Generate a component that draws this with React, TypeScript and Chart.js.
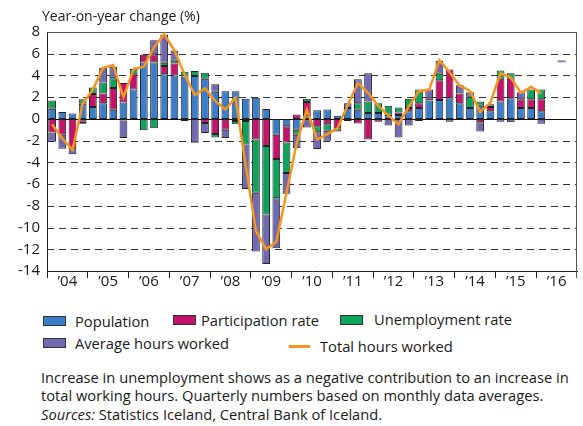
import React, { useEffect, useRef } from "react";
import { Chart, registerables } from "chart.js";
Chart.register(...registerables);

const years = ["2004", "2005", "2006", "2007", "2008", "2009", "2010", "2011", "2012", "2013", "2014", "2015", "2016"];
const yearTicks = ["’04", "’05", "’06", "’07", "’08", "’09", "’10", "’11", "’12", "’13", "’14", "’15", "’16"];
const quarterNames = ["Q1", "Q2", "Q3", "Q4"];
const categories = years.flatMap((y) => quarterNames.map((q) => `${y} ${q}`));

// Contributions (percentage points), 2004Q1 – 2016Q1
const population = [
  0.94, 0.64, 0.5, 1.4,
  1.1, 1.45, 0.85, 1.5,
  2.7, 5.2, 5.2, 4.1,
  4.0, 3.9, 3.95, 3.7,
  2.5, 2.55, 2.55, 1.85,
  1.95, 0.92, -1.45, -0.68,
  -1.0, 0.25, 0.8, 0.86,
  0.3, 1.0, 0.85, 0.55,
  0.55, 0.25, 0.35, 0.7,
  1.0, 1.7, 1.75, 1.9,
  1.45, 1.0, 1.2, 0.7,
  1.6, 1.9, 1.0, 1.0,
  0.7,
];
const participation = [
  -1.25, -1.45, -2.8, -0.25,
  1.2, 0.9, 2.0, 1.8,
  1.4, 0.7, 0.75, 0.77,
  1.1, 0, 0, -0.37,
  -1.4, -1.0, -0.2, -0.2,
  -1.9, -2.5, -2.25, -1.5,
  0.4, 1.3, -0.68, -0.5,
  -0.85, -0.2, -0.42, -1.9,
  -0.27, 0.15, 0.25, 0.3,
  0.45, 0.2, 1.8, 2.65,
  0.9, -0.1, -0.3, 0.4,
  2.1, 1.8, 0.8, 0.8,
  1.1,
];
const unemployment = [
  0.75, 0, 0, 0.4,
  0.6, 1.0, 0.9, -0.15,
  0.5, -1.05, -0.85, 0.3,
  0.25, 0.45, 0.45, 0.55,
  -0.3, 0, -0.3, -2.15,
  -4.9, -6.3, -3.6, -2.8,
  -0.45, 0.3, -0.55, -0.6,
  -0.3, 0, 0.6, 1.05,
  0.9, 0.8, 0.45, 0.85,
  1.25, 0, 0.6, 0,
  0, 1.05, 0.4, 0,
  0.75, 0.5, 0, 0.9,
  0.9,
];
const hoursWorked = [
  -0.85, -1.3, -0.45, -0.2,
  0, 1.35, 1.05, -1.6,
  0, 0, 1.3, 2.6,
  0.95, -0.2, -2.2, -0.92,
  0.7, -0.75, 0, -4.1,
  -5.4, -4.55, -4.6, -1.9,
  -1.25, -0.8, -1.55, -0.9,
  0, 0.45, 2.2, 2.6,
  0, -0.6, -1.7, -0.6,
  -0.2, 0.8, 1.2, -0.27,
  0.75, 0.4, -0.85, 0.25,
  -0.25, -0.3, 0.65, 0,
  -0.45,
];
const totalHours = [
  -0.5, -1.8, -2.85, 1.4,
  2.7, 4.7, 4.95, 2.0,
  4.6, 4.8, 6.6, 7.8,
  6.3, 4.1, 2.2, 2.8,
  1.65, 0.86, 1.95, -4.3,
  -10.3, -12.0, -11.3, -6.8,
  -2.2, 0.85, -1.9, -1.4,
  -0.85, 1.25, 3.3, 2.4,
  1.2, 0.3, -0.5, 1.15,
  2.55, 2.7, 5.4, 4.3,
  3.05, 2.6, 0.65, 1.5,
  4.2, 3.8, 2.4, 2.95,
  2.35,
];
// stray marker visible at the right of the plot
const strayMarker = [{ x: "2016 Q3", y: 5.3 }];

const yMin = -14;
const yMax = 8;
const yStep = 2;

const FONT = "'Open Sans', 'DejaVu Sans', sans-serif";
const TEXT = "#1a1a1a";
const C_POP = "#3b7dc9";
const C_PART = "#c3136b";
const C_UNEMP = "#0da35d";
const C_HOURS = "#6f68b2";
const C_TOTAL = "#f7941d";

export default function App() {
  const ref = useRef<HTMLCanvasElement>(null);

  useEffect(() => {
    if (!ref.current) return;
    const gridPlugin = {
      id: "gridFrame",
      beforeDatasetsDraw(chart: any) {
        const { ctx, chartArea: a, scales } = chart;
        const y = scales.y;
        ctx.save();
        y.ticks.forEach((t: any) => {
          const py = Math.round(y.getPixelForValue(t.value)) + 0.5;
          if (t.value === 0) {
            ctx.setLineDash([]);
            ctx.strokeStyle = "#111";
            ctx.lineWidth = 1;
          } else if (t.value > yMin && t.value < yMax) {
            ctx.setLineDash([7, 5]);
            ctx.strokeStyle = "#333";
            ctx.lineWidth = 1;
          } else return;
          ctx.beginPath();
          ctx.moveTo(a.left, py);
          ctx.lineTo(a.right, py);
          ctx.stroke();
        });
        ctx.setLineDash([]);
        ctx.strokeStyle = "#555";
        ctx.lineWidth = 1;
        ctx.beginPath();
        const top = Math.round(a.top) + 0.5;
        const right = Math.round(a.right) - 0.5;
        ctx.moveTo(a.left, top);
        ctx.lineTo(right, top);
        ctx.lineTo(right, a.bottom + 7);
        ctx.stroke();
        ctx.restore();
      },
    };

    const barCommon = {
      type: "bar" as const,
      borderColor: "#222",
      borderWidth: 1,
      borderSkipped: false,
      categoryPercentage: 1,
      barPercentage: 0.76,
      stack: "bars",
      order: 2,
    };

    const chart = new Chart(ref.current, {
      type: "bar",
      data: {
        labels: categories,
        datasets: [
          { ...barCommon, label: "Population", data: population, backgroundColor: C_POP },
          { ...barCommon, label: "Participation rate", data: participation, backgroundColor: C_PART },
          { ...barCommon, label: "Unemployment rate", data: unemployment, backgroundColor: C_UNEMP },
          { ...barCommon, label: "Average hours worked", data: hoursWorked, backgroundColor: C_HOURS },
          {
            type: "line",
            label: "Total hours worked",
            data: totalHours,
            borderColor: C_TOTAL,
            borderWidth: 2.5,
            pointRadius: 0,
            tension: 0,
            stack: "line",
            order: 0,
          } as any,
          {
            type: "line",
            label: "marker",
            data: strayMarker as any,
            showLine: false,
            pointStyle: "line",
            pointRadius: 4,
            pointBorderWidth: 2,
            pointBorderColor: "#8a84c4",
            borderColor: "#8a84c4",
            stack: "marker",
            order: 1,
          } as any,
        ],
      },
      options: {
        responsive: false,
        animation: false,
        events: [],
        layout: { padding: { left: 0, right: 5, top: 32, bottom: 0 } },
        plugins: {
          legend: { display: false },
          tooltip: { enabled: false },
          title: { display: false },
        },
        scales: {
          x: {
            stacked: true,
            offset: true,
            grid: {
              display: true,
              drawOnChartArea: false,
              drawTicks: true,
              tickLength: 7,
              offset: true,
              lineWidth: 1,
              color: (c: any) => (c.index % 4 === 0 ? "#222" : "rgba(0,0,0,0)"),
            },
            border: { display: true, color: "#222", width: 1 },
            ticks: {
              autoSkip: false,
              maxRotation: 0,
              minRotation: 0,
              padding: -5,
              labelOffset: 5.1,
              color: TEXT,
              font: { family: FONT, size: 15 },
              callback: (_v: any, i: number) => (i % 4 === 1 ? yearTicks[Math.floor(i / 4)] : ""),
            },
            afterFit: (s: any) => {
              s.height = 29;
            },
          },
          y: {
            stacked: true,
            min: yMin,
            max: yMax,
            grid: { display: false, drawTicks: false },
            border: { display: true, color: "#222", width: 1 },
            ticks: {
              stepSize: yStep,
              padding: 7,
              color: TEXT,
              font: { family: FONT, size: 15 },
              callback: (v: any) => String(v),
            },
            afterFit: (s: any) => {
              s.width = 47;
            },
          },
        },
      },
      plugins: [gridPlugin],
    } as any);
    return () => chart.destroy();
  }, []);

  const box = (left: number, top: number, color: string) => (
    <div
      style={{
        position: "absolute",
        left,
        top,
        width: 23,
        height: 10,
        boxSizing: "border-box",
        border: "1px solid #333",
        background: color,
      }}
    />
  );
  const label = (left: number, top: number, text: React.ReactNode, size = 14.7) => (
    <div style={{ position: "absolute", left, top, fontSize: size, lineHeight: "18px", whiteSpace: "nowrap" }}>{text}</div>
  );

  return (
    <div
      style={{
        position: "fixed",
        left: 0,
        top: 0,
        width: 583,
        height: 426,
        background: "#fff",
        fontFamily: FONT,
        color: TEXT,
        overflow: "hidden",
      }}
    >
      <canvas ref={ref} width={583} height={300} style={{ position: "absolute", left: 0, top: 0, width: 583, height: 300 }} />
      {label(42, 7, "Year-on-year change (%)", 14)}
      {box(43, 316, C_POP)}
      {label(75, 312, "Population")}
      {box(173, 315, C_PART)}
      {label(201, 311, "Participation rate")}
      {box(340, 315, C_UNEMP)}
      {label(374, 310, "Unemployment rate")}
      {box(43, 338, C_HOURS)}
      {label(75, 334, "Average hours worked")}
      <div style={{ position: "absolute", left: 289, top: 345, width: 21, height: 2.5, background: C_TOTAL }} />
      {label(320, 337, "Total hours worked")}
      {label(41, 368, "Increase in unemployment shows as a negative contribution to an increase in")}
      {label(41, 386, "total working hours. Quarterly numbers based on monthly data averages.")}
      {label(41, 405, <><i>Sources:</i> Statistics Iceland, Central Bank of Iceland.</>)}
    </div>
  );
}
